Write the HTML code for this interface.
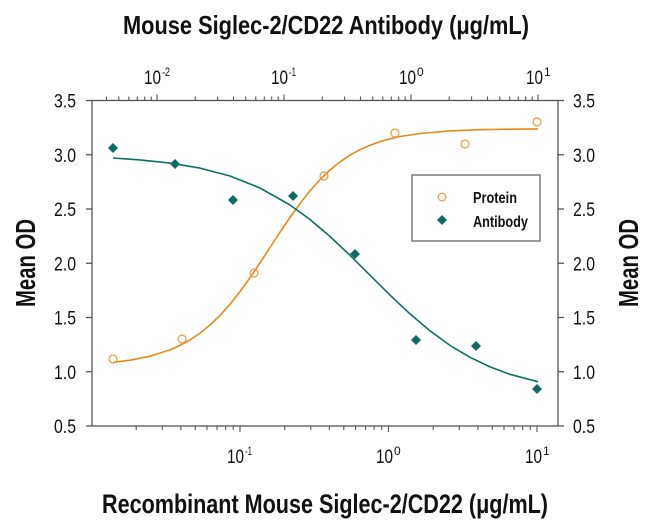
<!DOCTYPE html>
<html><head><meta charset="utf-8"><style>
html,body{margin:0;padding:0;background:#fff;}
svg{display:block;}
text{font-family:"Liberation Sans Narrow","Liberation Sans",sans-serif;fill:#111;}
</style></head><body>
<svg width="650" height="526" viewBox="0 0 650 526" xmlns="http://www.w3.org/2000/svg">
<rect width="650" height="526" fill="#fff"/>
<!-- Titles -->
<text x="123" y="34" font-size="26" font-weight="bold" textLength="406" lengthAdjust="spacingAndGlyphs">Mouse Siglec-2/CD22 Antibody (μg/mL)</text>
<text x="102" y="513" font-size="27" font-weight="bold" textLength="446" lengthAdjust="spacingAndGlyphs">Recombinant Mouse Siglec-2/CD22 (μg/mL)</text>
<text transform="translate(35,263) rotate(-90)" text-anchor="middle" font-size="28" font-weight="bold" textLength="88" lengthAdjust="spacingAndGlyphs">Mean OD</text>
<text transform="translate(638,263) rotate(-90)" text-anchor="middle" font-size="28" font-weight="bold" textLength="88" lengthAdjust="spacingAndGlyphs">Mean OD</text>

<!-- Frame -->
<g stroke="#555" stroke-width="1.3" fill="none">
<rect x="92" y="100.5" width="466" height="325.5"/>
</g>
<!-- Y ticks -->
<g stroke="#555" stroke-width="1.3">
<line x1="86" y1="100.5" x2="92" y2="100.5"/><line x1="86" y1="154.75" x2="92" y2="154.75"/><line x1="86" y1="209" x2="92" y2="209"/><line x1="86" y1="263.25" x2="92" y2="263.25"/><line x1="86" y1="317.5" x2="92" y2="317.5"/><line x1="86" y1="371.75" x2="92" y2="371.75"/><line x1="86" y1="426" x2="92" y2="426"/>
<line x1="558" y1="100.5" x2="564" y2="100.5"/><line x1="558" y1="154.75" x2="564" y2="154.75"/><line x1="558" y1="209" x2="564" y2="209"/><line x1="558" y1="263.25" x2="564" y2="263.25"/><line x1="558" y1="317.5" x2="564" y2="317.5"/><line x1="558" y1="371.75" x2="564" y2="371.75"/><line x1="558" y1="426" x2="564" y2="426"/>
</g>
<!-- Bottom ticks -->
<g stroke="#555" stroke-width="1.1">
<line x1="240" y1="426" x2="240" y2="432"/><line x1="388.5" y1="426" x2="388.5" y2="432"/><line x1="537" y1="426" x2="537" y2="432"/>
<line x1="136.2" y1="426" x2="136.2" y2="430"/><line x1="162.3" y1="426" x2="162.3" y2="430"/><line x1="180.9" y1="426" x2="180.9" y2="430"/><line x1="195.3" y1="426" x2="195.3" y2="430"/><line x1="207" y1="426" x2="207" y2="430"/><line x1="217" y1="426" x2="217" y2="430"/><line x1="225.6" y1="426" x2="225.6" y2="430"/><line x1="233.2" y1="426" x2="233.2" y2="430"/>
<line x1="284.7" y1="426" x2="284.7" y2="430"/><line x1="310.8" y1="426" x2="310.8" y2="430"/><line x1="329.4" y1="426" x2="329.4" y2="430"/><line x1="343.8" y1="426" x2="343.8" y2="430"/><line x1="355.5" y1="426" x2="355.5" y2="430"/><line x1="365.5" y1="426" x2="365.5" y2="430"/><line x1="374.1" y1="426" x2="374.1" y2="430"/><line x1="381.7" y1="426" x2="381.7" y2="430"/>
<line x1="433.2" y1="426" x2="433.2" y2="430"/><line x1="459.3" y1="426" x2="459.3" y2="430"/><line x1="477.9" y1="426" x2="477.9" y2="430"/><line x1="492.3" y1="426" x2="492.3" y2="430"/><line x1="504" y1="426" x2="504" y2="430"/><line x1="514" y1="426" x2="514" y2="430"/><line x1="522.6" y1="426" x2="522.6" y2="430"/><line x1="530.2" y1="426" x2="530.2" y2="430"/>
</g>
<!-- Top ticks -->
<g stroke="#555" stroke-width="1.1">
<line x1="157" y1="100.5" x2="157" y2="94.5"/><line x1="284" y1="100.5" x2="284" y2="94.5"/><line x1="411" y1="100.5" x2="411" y2="94.5"/><line x1="538" y1="100.5" x2="538" y2="94.5"/>
<line x1="106.5" y1="100.5" x2="106.5" y2="96.5"/><line x1="118.8" y1="100.5" x2="118.8" y2="96.5"/><line x1="128.8" y1="100.5" x2="128.8" y2="96.5"/><line x1="137.3" y1="100.5" x2="137.3" y2="96.5"/><line x1="144.7" y1="100.5" x2="144.7" y2="96.5"/><line x1="151.2" y1="100.5" x2="151.2" y2="96.5"/>
<line x1="195.2" y1="100.5" x2="195.2" y2="96.5"/><line x1="217.6" y1="100.5" x2="217.6" y2="96.5"/><line x1="233.5" y1="100.5" x2="233.5" y2="96.5"/><line x1="245.8" y1="100.5" x2="245.8" y2="96.5"/><line x1="255.8" y1="100.5" x2="255.8" y2="96.5"/><line x1="264.3" y1="100.5" x2="264.3" y2="96.5"/><line x1="271.7" y1="100.5" x2="271.7" y2="96.5"/><line x1="278.2" y1="100.5" x2="278.2" y2="96.5"/>
<line x1="322.2" y1="100.5" x2="322.2" y2="96.5"/><line x1="344.6" y1="100.5" x2="344.6" y2="96.5"/><line x1="360.5" y1="100.5" x2="360.5" y2="96.5"/><line x1="372.8" y1="100.5" x2="372.8" y2="96.5"/><line x1="382.8" y1="100.5" x2="382.8" y2="96.5"/><line x1="391.3" y1="100.5" x2="391.3" y2="96.5"/><line x1="398.7" y1="100.5" x2="398.7" y2="96.5"/><line x1="405.2" y1="100.5" x2="405.2" y2="96.5"/>
<line x1="449.2" y1="100.5" x2="449.2" y2="96.5"/><line x1="471.6" y1="100.5" x2="471.6" y2="96.5"/><line x1="487.5" y1="100.5" x2="487.5" y2="96.5"/><line x1="499.8" y1="100.5" x2="499.8" y2="96.5"/><line x1="509.8" y1="100.5" x2="509.8" y2="96.5"/><line x1="518.3" y1="100.5" x2="518.3" y2="96.5"/><line x1="525.7" y1="100.5" x2="525.7" y2="96.5"/><line x1="532.2" y1="100.5" x2="532.2" y2="96.5"/>
</g>

<!-- Y tick labels -->
<g font-size="19" text-anchor="end">
<text x="76" y="107.5" textLength="22" lengthAdjust="spacingAndGlyphs">3.5</text>
<text x="76" y="161.75" textLength="22" lengthAdjust="spacingAndGlyphs">3.0</text>
<text x="76" y="216" textLength="22" lengthAdjust="spacingAndGlyphs">2.5</text>
<text x="76" y="270.25" textLength="22" lengthAdjust="spacingAndGlyphs">2.0</text>
<text x="76" y="324.5" textLength="22" lengthAdjust="spacingAndGlyphs">1.5</text>
<text x="76" y="378.75" textLength="22" lengthAdjust="spacingAndGlyphs">1.0</text>
<text x="76" y="433" textLength="22" lengthAdjust="spacingAndGlyphs">0.5</text>
</g>
<g font-size="19">
<text x="573" y="107.5" textLength="22" lengthAdjust="spacingAndGlyphs">3.5</text>
<text x="573" y="161.75" textLength="22" lengthAdjust="spacingAndGlyphs">3.0</text>
<text x="573" y="216" textLength="22" lengthAdjust="spacingAndGlyphs">2.5</text>
<text x="573" y="270.25" textLength="22" lengthAdjust="spacingAndGlyphs">2.0</text>
<text x="573" y="324.5" textLength="22" lengthAdjust="spacingAndGlyphs">1.5</text>
<text x="573" y="378.75" textLength="22" lengthAdjust="spacingAndGlyphs">1.0</text>
<text x="573" y="433" textLength="22" lengthAdjust="spacingAndGlyphs">0.5</text>
</g>

<!-- Log tick labels -->
<g font-size="19">
<text x="144" y="84" textLength="17" lengthAdjust="spacingAndGlyphs">10</text>
<text x="271" y="84" textLength="17" lengthAdjust="spacingAndGlyphs">10</text>
<text x="399" y="84" textLength="17" lengthAdjust="spacingAndGlyphs">10</text>
<text x="526" y="84" textLength="17" lengthAdjust="spacingAndGlyphs">10</text>
<text x="227" y="463" textLength="17" lengthAdjust="spacingAndGlyphs">10</text>
<text x="376" y="463" textLength="17" lengthAdjust="spacingAndGlyphs">10</text>
<text x="525" y="463" textLength="17" lengthAdjust="spacingAndGlyphs">10</text>
</g>
<g font-size="12">
<text x="162" y="76" textLength="8" lengthAdjust="spacingAndGlyphs">-2</text>
<text x="289" y="76" textLength="7" lengthAdjust="spacingAndGlyphs">-1</text>
<text x="417" y="76">0</text>
<text x="544" y="76">1</text>
<text x="245" y="455" textLength="7" lengthAdjust="spacingAndGlyphs">-1</text>
<text x="394" y="455">0</text>
<text x="543" y="455">1</text>
</g>

<!-- Curves -->
<polyline fill="none" stroke="#e8891a" stroke-width="1.6" stroke-linejoin="round" points="113,362.4 130,360.2 150,356.2 170,349.9 180,345.4 190,339.9 200,333.1 210,325 220,315.4 230,304.2 240,291.6 250,277.7 260,262.9 270,247.5 280,232.2 290,217.4 300,203.5 310,190.8 320,179.6 330,170 340,161.9 350,155.2 360,149.6 370,145.2 380,141.6 390,138.8 400,136.5 420,133.5 450,130.9 480,129.7 510,129.2 538,128.9"/>
<polyline fill="none" stroke="#0f6e67" stroke-width="1.6" stroke-linejoin="round" points="113,158 140,159.9 170,163.1 200,168.1 230,176 260,188 290,205 310,219.5 330,236.5 350,255.3 370,275.2 390,295.1 410,313.9 430,330.8 450,345.4 470,357.3 490,366.9 510,374.3 538,381.8"/>

<!-- Protein circles -->
<g fill="none" stroke="#eb9a3c" stroke-width="1.2">
<circle cx="113" cy="359" r="4"/><circle cx="182" cy="339" r="4"/><circle cx="254" cy="273" r="4"/><circle cx="324" cy="176" r="4"/><circle cx="395" cy="133" r="4"/><circle cx="465" cy="144" r="4"/><circle cx="537" cy="122" r="4"/>
</g>
<!-- Antibody diamonds -->
<g fill="#0d6b64">
<path d="M113,143 l5,5 l-5,5 l-5,-5z"/>
<path d="M175,159 l5,5 l-5,5 l-5,-5z"/>
<path d="M233,195 l5,5 l-5,5 l-5,-5z"/>
<path d="M293,191 l5,5 l-5,5 l-5,-5z"/>
<path d="M355,249 l5,5 l-5,5 l-5,-5z"/>
<path d="M416,335 l5,5 l-5,5 l-5,-5z"/>
<path d="M476,341 l5,5 l-5,5 l-5,-5z"/>
<path d="M537,384 l5,5 l-5,5 l-5,-5z"/>
</g>

<!-- Legend -->
<rect x="412" y="175" width="128" height="66" fill="#fff" stroke="#666" stroke-width="1.3"/>
<circle cx="442" cy="197" r="3.8" fill="none" stroke="#eb9a3c" stroke-width="1.2"/>
<path d="M442,215 l5,5 l-5,5 l-5,-5z" fill="#0d6b64"/>
<text x="473" y="203" font-size="16" font-weight="bold" textLength="44" lengthAdjust="spacingAndGlyphs">Protein</text>
<text x="473" y="227" font-size="16" font-weight="bold" textLength="55" lengthAdjust="spacingAndGlyphs">Antibody</text>
</svg>
</body></html>
